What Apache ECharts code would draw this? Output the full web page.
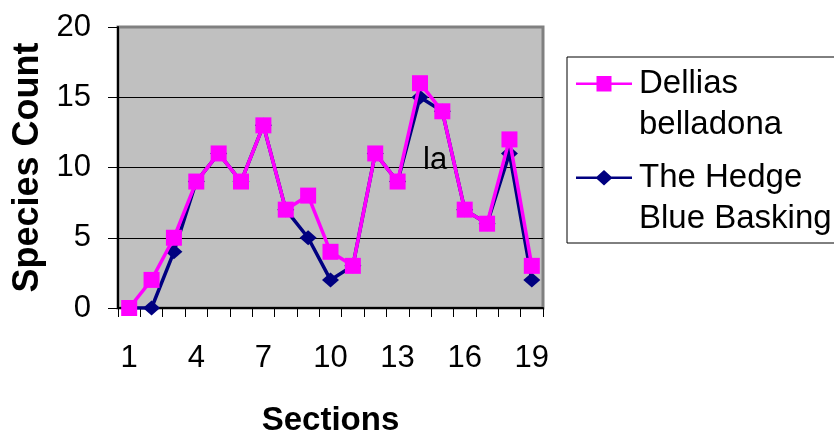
<!DOCTYPE html>
<html lang="en">
  <head>
    <meta charset="UTF-8" />
    <title>Species Count</title>
    <style>
      html, body { margin: 0; padding: 0; background: #fff; }
    </style>
  </head>
  <body>
    <div id="main" style="width: 834px; height: 436px"></div>

    <script src="https://cdn.jsdelivr.net/npm/echarts@6/dist/echarts.min.js"></script>
    <script>
      // ===== data =====
      const sections = ['1', '2', '3', '4', '5', '6', '7', '8', '9', '10', '11', '12', '13', '14', '15', '16', '17', '18', '19']
      const delliasBelladona = [0, 2, 5, 9, 11, 9, 13, 7, 8, 4, 3, 11, 9, 16, 14, 7, 6, 12, 3]
      const hedgeBlueBasking = [0, 0, 4, 9, 11, 9, 13, 7, 5, 2, 3, 11, 9, 15, 14, 7, 6, 11, 2]
      const seriesNames = ['Dellias belladona', 'The Hedge Blue Basking']
      const legendLines = {
        'Dellias belladona': 'Dellias\nbelladona',
        'The Hedge Blue Basking': 'The Hedge\nBlue Basking'
      }

      const font = 'Liberation Sans, Arial, sans-serif'

      // legend icons: line + marker drawn in the upper part of a 56x82 box
      const corners = 'M0,0L0.01,0L0,0.01Z M56,82L55.99,82L56,81.99Z '
      const squareIcon = 'path://' + corners + 'M0,19.5L56,19.5L56,22L0,22Z M20.5,13L35.5,13L35.5,28.5L20.5,28.5Z'
      const diamondIcon = 'path://' + corners + 'M0,19.5L56,19.5L56,22L0,22Z M28,13L36.5,20.8L28,28.5L19.5,20.8Z'

      const myChart = echarts.init(document.getElementById('main'))

      const option = {
        backgroundColor: '#fff',
        animation: false,
        textStyle: { fontFamily: font },
        grid: {
          left: 118,
          top: 27,
          right: 291,
          bottom: 128,
          outerBoundsMode: 'none',
          containLabel: false,
          show: true,
          backgroundColor: '#c0c0c0',
          borderColor: '#808080',
          borderWidth: 3
        },
        legend: {
          orient: 'vertical',
          left: 567,
          top: 57,
          itemWidth: 56,
          itemHeight: 82,
          itemGap: 12,
          padding: [6, 40, 4, 9],
          borderColor: '#000',
          borderWidth: 1,
          backgroundColor: '#fff',
          itemStyle: { borderWidth: 0 },
          data: [
            { name: seriesNames[0], icon: squareIcon },
            { name: seriesNames[1], icon: diamondIcon }
          ],
          formatter: name => legendLines[name],
          textStyle: {
            fontFamily: font,
            fontSize: 33,
            lineHeight: 41,
            color: '#000',
            padding: [0, 0, 0, 2]
          }
        },
        xAxis: {
          type: 'category',
          data: sections,
          boundaryGap: true,
          name: 'Sections',
          nameLocation: 'middle',
          nameGap: 96,
          nameTextStyle: { fontFamily: font, fontSize: 33, fontWeight: 'bold', color: '#000' },
          axisLine: { lineStyle: { color: '#000', width: 2 } },
          axisTick: { show: true, interval: 0, length: 9, lineStyle: { color: '#000', width: 1 } },
          axisLabel: { interval: 2, margin: 35, fontSize: 31, color: '#000', fontFamily: font }
        },
        yAxis: {
          type: 'value',
          min: 0,
          max: 20,
          interval: 5,
          name: 'Species Count',
          nameLocation: 'middle',
          nameRotate: 90,
          nameGap: 72,
          nameTextStyle: { fontFamily: font, fontSize: 36, fontWeight: 'bold', color: '#000' },
          axisLine: { show: true, lineStyle: { color: '#000', width: 2 } },
          axisTick: { show: true, length: 10, lineStyle: { color: '#000', width: 1 } },
          axisLabel: { margin: 27, fontSize: 31, color: '#000', fontFamily: font },
          splitLine: {
            show: true,
            lineStyle: { color: ['#000', '#000', '#000', '#000', '#808080'], width: 1 }
          }
        },
        graphic: [
          {
            type: 'text',
            left: 423,
            top: 145,
            z: 10,
            style: { text: 'la', font: '31px ' + font, fill: '#000' }
          }
        ],
        series: [
          {
            name: seriesNames[0],
            type: 'line',
            data: delliasBelladona,
            z: 4,
            symbol: 'rect',
            symbolSize: 16,
            showAllSymbol: true,
            lineStyle: { color: '#ff00ff', width: 3.5 },
            itemStyle: { color: '#ff00ff', borderWidth: 0 }
          },
          {
            name: seriesNames[1],
            type: 'line',
            data: hedgeBlueBasking,
            z: 3,
            symbol: 'diamond',
            symbolSize: [17, 15],
            showAllSymbol: true,
            lineStyle: { color: '#000080', width: 3.5 },
            itemStyle: { color: '#000080', borderWidth: 0 }
          }
        ]
      }

      myChart.setOption(option)
    </script>
  </body>
</html>
